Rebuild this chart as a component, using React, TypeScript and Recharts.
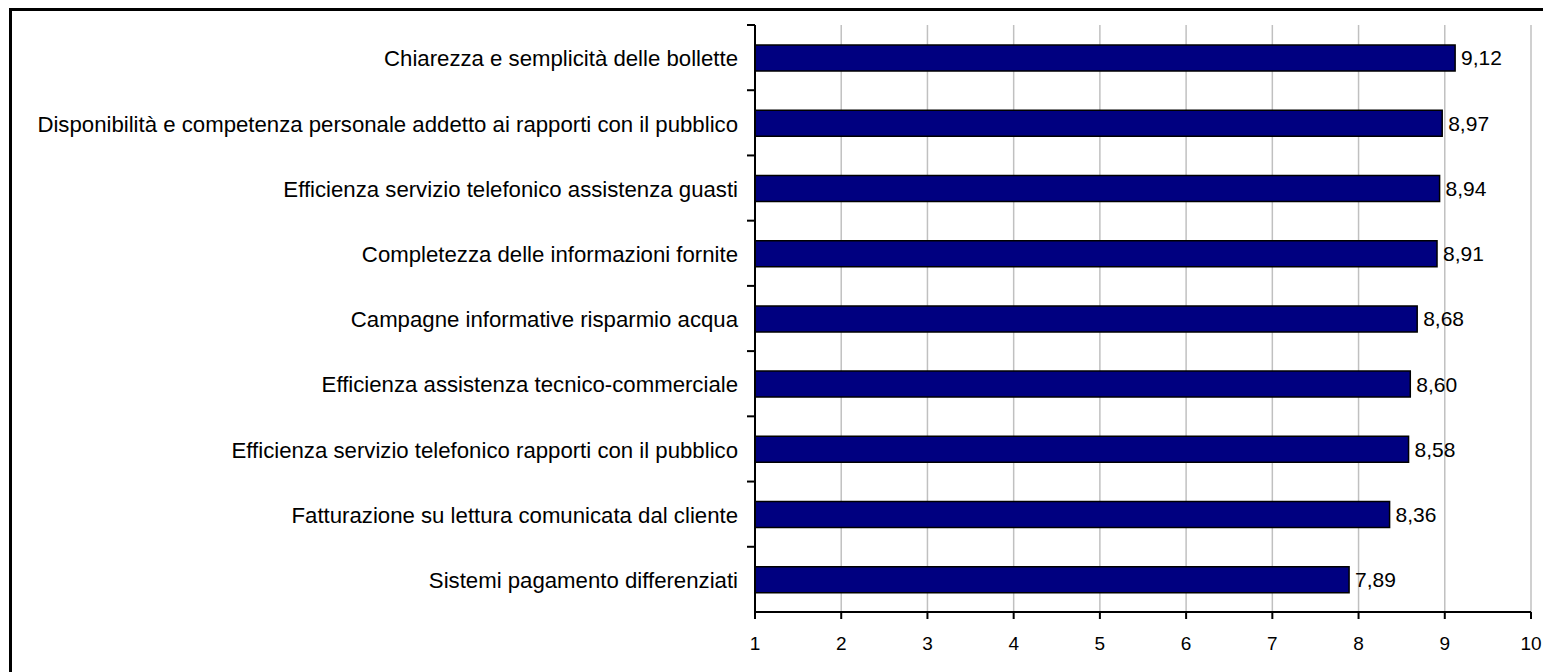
import { Bar, BarChart, CartesianGrid, LabelList, XAxis, YAxis } from 'recharts';

const categories = [
    'Chiarezza e semplicità delle bollette',
    'Disponibilità e competenza personale addetto ai rapporti con il pubblico',
    'Efficienza servizio telefonico assistenza guasti ',
    'Completezza delle informazioni fornite',
    'Campagne informative risparmio acqua',
    'Efficienza assistenza tecnico-commerciale',
    'Efficienza servizio telefonico rapporti con il pubblico',
    'Fatturazione su lettura comunicata dal cliente',
    'Sistemi pagamento differenziati',
];

const scores = [9.12, 8.97, 8.94, 8.91, 8.68, 8.60, 8.58, 8.36, 7.89];

const xTicks = [1, 2, 3, 4, 5, 6, 7, 8, 9, 10];

const FONT = '"Liberation Sans", Arial, sans-serif';

const CHART_W = 1543;
const CHART_H = 672;
const MARGIN = {top: 25, right: 12, bottom: 20, left: 10};
const X_AXIS_H = 40;
const Y_TICK_SIZE = 8;
const Y_TICK_MARGIN = 9;
const bandSize = (CHART_H - MARGIN.top - MARGIN.bottom - X_AXIS_H) / categories.length;

type TickProps = {
    x?: number;
    y?: number;
    index?: number;
    payload?: {value: string | number};
};

// category label at band centre, tick mark at band boundary (Excel style)
const CategoryTick = (props: TickProps): React.ReactElement => {
    const x = props.x ?? 0;
    const y = props.y ?? 0;
    const axisX = x + Y_TICK_SIZE + Y_TICK_MARGIN;
    const top = y - bandSize / 2;
    return (
        <g>
            <line x1={axisX - Y_TICK_SIZE} x2={axisX} y1={top} y2={top} stroke={'#000'} strokeWidth={2} />
            <text
                x={x}
                y={y + 1}
                dy={'0.35em'}
                textAnchor={'end'}
                fontFamily={FONT}
                fontSize={22.2}
                fill={'#000'}
            >
                {props.payload?.value}
            </text>
        </g>
    );
};

const ValueTick = (props: TickProps): React.ReactElement => (
    <text
        x={props.x ?? 0}
        y={(props.y ?? 0) + 1}
        dy={'0.72em'}
        textAnchor={'middle'}
        fill={'#000'}
        fontFamily={FONT}
        fontSize={19}
    >
        {props.payload?.value}
    </text>
);

export default function App(): React.ReactElement {
    const data = categories.map((name, i) => ({name, value: scores[i]}));

    return (
        <div style={{position: 'fixed', left: 0, top: 0, width: CHART_W, height: CHART_H, overflow: 'hidden', background: '#fff'}}>
            <div style={{position: 'absolute', left: 9, top: 8, width: 1600, height: 720, border: '3px solid #000'}} />
            <div style={{position: 'absolute', left: 0, top: 0}}>
                <BarChart
                    width={CHART_W}
                    height={CHART_H}
                    data={data}
                    layout={'vertical'}
                    margin={MARGIN}
                >
                    <CartesianGrid
                        horizontal={false}
                        stroke={'#c0c0c0'}
                        strokeWidth={1.5}
                    />
                    <XAxis
                        xAxisId={'top'}
                        orientation={'top'}
                        type={'number'}
                        domain={[1, 10]}
                        ticks={xTicks}
                        tick={false}
                        tickLine={false}
                        axisLine={{stroke: '#a0a0a0', strokeWidth: 1.5}}
                        height={0}
                    />
                    <XAxis
                        type={'number'}
                        domain={[1, 10]}
                        ticks={xTicks}
                        allowDataOverflow
                        height={X_AXIS_H}
                        tickSize={7}
                        tickMargin={16}
                        axisLine={{stroke: '#000', strokeWidth: 2}}
                        tickLine={{stroke: '#000', strokeWidth: 2}}
                        tick={<ValueTick />}
                    />
                    <YAxis
                        type={'category'}
                        dataKey={'name'}
                        width={745}
                        interval={0}
                        tickSize={Y_TICK_SIZE}
                        tickMargin={Y_TICK_MARGIN}
                        tickLine={false}
                        axisLine={{stroke: '#000', strokeWidth: 2}}
                        tick={<CategoryTick />}
                    />
                    <Bar
                        dataKey={'value'}
                        barSize={26}
                        fill={'#000080'}
                        stroke={'#000'}
                        strokeWidth={1.5}
                        isAnimationActive={false}
                    >
                        <LabelList
                            dataKey={'value'}
                            position={'right'}
                            offset={6}
                            fill={'#000'}
                            fontSize={21}
                            fontFamily={FONT}
                            formatter={(v: unknown) => Number(v).toFixed(2).replace('.', ',')}
                        />
                    </Bar>
                </BarChart>
            </div>
        </div>
    );
}
